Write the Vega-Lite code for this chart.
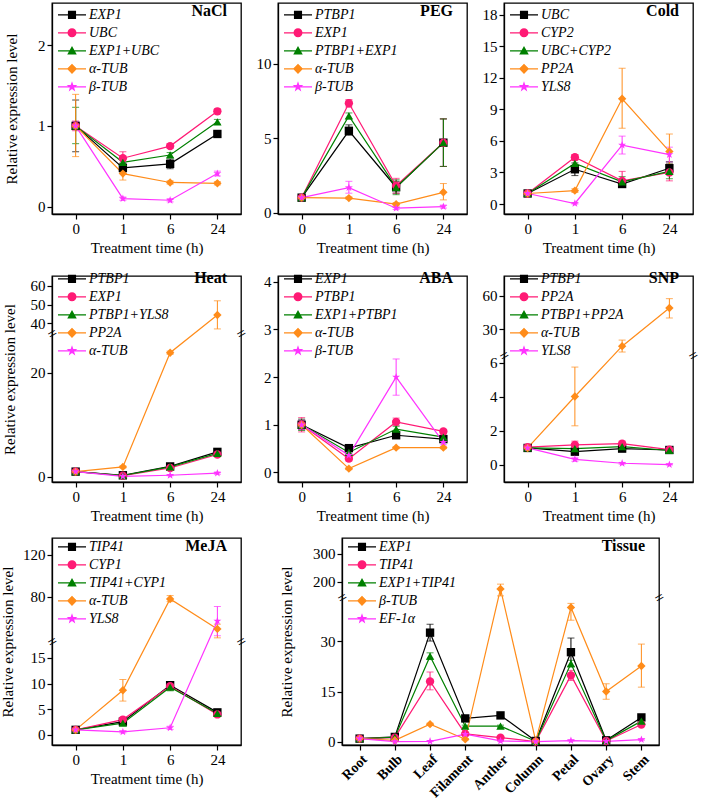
{
  "$schema": "https://vega.github.io/schema/vega-lite/v6.json",
  "padding": {"left": -1, "top": 2, "right": 0, "bottom": 0},
  "config": {
    "font": "Liberation Serif, Times New Roman, serif",
    "view": {"stroke": "#000", "strokeWidth": 1.3},
    "axis": {"labelFont": "Liberation Serif, Times New Roman, serif", "titleFont": "Liberation Serif, Times New Roman, serif", "labelFontSize": 15, "titleFontSize": 15, "titleFontWeight": 400, "labelColor": "#000", "titleColor": "#000", "domainColor": "#000", "tickColor": "#000", "grid": false, "tickSize": 5, "labelPadding": 2, "labelOverlap": false, "labelFlush": false, "domainWidth": 1.3, "tickWidth": 1.2},
    "title": {"anchor": "end", "frame": "group", "offset": -16, "baseline": "alphabetic", "dx": -14, "fontSize": 16, "fontWeight": "bold", "font": "Liberation Serif, Times New Roman, serif", "color": "#000"}
  },
  "datasets": {
    "d": [
      {"p":"NaCl","g":"EXP1","t":0,"v":1,"lo":0.68,"hi":1.32},
      {"p":"NaCl","g":"EXP1","t":1,"v":0.48,"lo":0.42,"hi":0.54},
      {"p":"NaCl","g":"EXP1","t":6,"v":0.53,"lo":0.47,"hi":0.59},
      {"p":"NaCl","g":"EXP1","t":24,"v":0.9,"lo":0.87,"hi":0.93},
      {"p":"NaCl","g":"UBC","t":0,"v":1,"lo":0.94,"hi":1.06},
      {"p":"NaCl","g":"UBC","t":1,"v":0.6,"lo":0.53,"hi":0.68},
      {"p":"NaCl","g":"UBC","t":6,"v":0.75,"lo":0.72,"hi":0.78},
      {"p":"NaCl","g":"UBC","t":24,"v":1.18,"lo":1.15,"hi":1.21},
      {"p":"NaCl","g":"EXP1+UBC","t":0,"v":1,"lo":0.78,"hi":1.23},
      {"p":"NaCl","g":"EXP1+UBC","t":1,"v":0.55,"lo":0.5,"hi":0.6},
      {"p":"NaCl","g":"EXP1+UBC","t":6,"v":0.64,"lo":0.61,"hi":0.67},
      {"p":"NaCl","g":"EXP1+UBC","t":24,"v":1.05,"lo":1.02,"hi":1.08},
      {"p":"NaCl","g":"α-TUB","t":0,"v":1,"lo":0.62,"hi":1.39},
      {"p":"NaCl","g":"α-TUB","t":1,"v":0.41,"lo":0.33,"hi":0.49},
      {"p":"NaCl","g":"α-TUB","t":6,"v":0.3,"lo":0.28,"hi":0.32},
      {"p":"NaCl","g":"α-TUB","t":24,"v":0.29,"lo":0.27,"hi":0.31},
      {"p":"NaCl","g":"β-TUB","t":0,"v":1,"lo":0.96,"hi":1.05},
      {"p":"NaCl","g":"β-TUB","t":1,"v":0.1,"lo":0.08,"hi":0.12},
      {"p":"NaCl","g":"β-TUB","t":6,"v":0.08,"lo":0.06,"hi":0.1},
      {"p":"NaCl","g":"β-TUB","t":24,"v":0.41,"lo":0.38,"hi":0.44},

      {"p":"PEG","g":"PTBP1","t":0,"v":1,"lo":0.9,"hi":1.1},
      {"p":"PEG","g":"PTBP1","t":1,"v":5.5,"lo":5.2,"hi":5.9},
      {"p":"PEG","g":"PTBP1","t":6,"v":1.7,"lo":1.3,"hi":2.1},
      {"p":"PEG","g":"PTBP1","t":24,"v":4.7,"lo":3.1,"hi":6.3},
      {"p":"PEG","g":"EXP1","t":0,"v":1,"lo":0.9,"hi":1.1},
      {"p":"PEG","g":"EXP1","t":1,"v":7.35,"lo":7.1,"hi":7.6},
      {"p":"PEG","g":"EXP1","t":6,"v":1.8,"lo":1.3,"hi":2.3},
      {"p":"PEG","g":"EXP1","t":24,"v":4.7,"lo":3.1,"hi":6.3},
      {"p":"PEG","g":"PTBP1+EXP1","t":0,"v":1,"lo":0.9,"hi":1.1},
      {"p":"PEG","g":"PTBP1+EXP1","t":1,"v":6.5,"lo":6.3,"hi":6.7},
      {"p":"PEG","g":"PTBP1+EXP1","t":6,"v":1.7,"lo":1.2,"hi":2.2},
      {"p":"PEG","g":"PTBP1+EXP1","t":24,"v":4.7,"lo":3.1,"hi":6.3},
      {"p":"PEG","g":"α-TUB","t":0,"v":1,"lo":0.85,"hi":1.15},
      {"p":"PEG","g":"α-TUB","t":1,"v":0.97,"lo":0.9,"hi":1.05},
      {"p":"PEG","g":"α-TUB","t":6,"v":0.56,"lo":0.45,"hi":0.67},
      {"p":"PEG","g":"α-TUB","t":24,"v":1.36,"lo":0.85,"hi":1.95},
      {"p":"PEG","g":"β-TUB","t":0,"v":1,"lo":0.9,"hi":1.1},
      {"p":"PEG","g":"β-TUB","t":1,"v":1.67,"lo":1.3,"hi":2.1},
      {"p":"PEG","g":"β-TUB","t":6,"v":0.29,"lo":0.2,"hi":0.38},
      {"p":"PEG","g":"β-TUB","t":24,"v":0.4,"lo":0.3,"hi":0.5},

      {"p":"Cold","g":"UBC","t":0,"v":1,"lo":0.8,"hi":1.2},
      {"p":"Cold","g":"UBC","t":1,"v":3.3,"lo":2.7,"hi":3.9},
      {"p":"Cold","g":"UBC","t":6,"v":1.9,"lo":1.6,"hi":2.2},
      {"p":"Cold","g":"UBC","t":24,"v":3.4,"lo":2.8,"hi":4.0},
      {"p":"Cold","g":"CYP2","t":0,"v":1,"lo":0.85,"hi":1.15},
      {"p":"Cold","g":"CYP2","t":1,"v":4.45,"lo":4.2,"hi":4.7},
      {"p":"Cold","g":"CYP2","t":6,"v":2.2,"lo":1.6,"hi":3.1},
      {"p":"Cold","g":"CYP2","t":24,"v":3.0,"lo":2.2,"hi":3.8},
      {"p":"Cold","g":"UBC+CYP2","t":0,"v":1,"lo":0.85,"hi":1.15},
      {"p":"Cold","g":"UBC+CYP2","t":1,"v":3.85,"lo":3.5,"hi":4.2},
      {"p":"Cold","g":"UBC+CYP2","t":6,"v":2.1,"lo":1.6,"hi":2.6},
      {"p":"Cold","g":"UBC+CYP2","t":24,"v":3.1,"lo":2.4,"hi":3.8},
      {"p":"Cold","g":"PP2A","t":0,"v":1,"lo":0.8,"hi":1.2},
      {"p":"Cold","g":"PP2A","t":1,"v":1.27,"lo":1.1,"hi":1.45},
      {"p":"Cold","g":"PP2A","t":6,"v":10.0,"lo":7.2,"hi":12.9},
      {"p":"Cold","g":"PP2A","t":24,"v":5.0,"lo":3.3,"hi":6.65},
      {"p":"Cold","g":"YLS8","t":0,"v":1,"lo":0.85,"hi":1.15},
      {"p":"Cold","g":"YLS8","t":1,"v":0.05,"lo":0.0,"hi":0.1},
      {"p":"Cold","g":"YLS8","t":6,"v":5.6,"lo":4.75,"hi":6.45},
      {"p":"Cold","g":"YLS8","t":24,"v":4.7,"lo":4.0,"hi":5.4},

      {"p":"Heat","g":"PTBP1","t":0,"v":1,"lo":0.6,"hi":1.4},
      {"p":"Heat","g":"PTBP1","t":1,"v":0.3,"lo":0.2,"hi":0.4},
      {"p":"Heat","g":"PTBP1","t":6,"v":2.0,"lo":1.7,"hi":2.3},
      {"p":"Heat","g":"PTBP1","t":24,"v":4.8,"lo":4.4,"hi":5.2},
      {"p":"Heat","g":"EXP1","t":0,"v":1,"lo":0.7,"hi":1.3},
      {"p":"Heat","g":"EXP1","t":1,"v":0.2,"lo":0.1,"hi":0.3},
      {"p":"Heat","g":"EXP1","t":6,"v":1.7,"lo":1.4,"hi":2.0},
      {"p":"Heat","g":"EXP1","t":24,"v":4.3,"lo":3.9,"hi":4.7},
      {"p":"Heat","g":"PTBP1+YLS8","t":0,"v":1,"lo":0.7,"hi":1.3},
      {"p":"Heat","g":"PTBP1+YLS8","t":1,"v":0.25,"lo":0.15,"hi":0.35},
      {"p":"Heat","g":"PTBP1+YLS8","t":6,"v":1.9,"lo":1.6,"hi":2.2},
      {"p":"Heat","g":"PTBP1+YLS8","t":24,"v":4.5,"lo":4.1,"hi":4.9},
      {"p":"Heat","g":"PP2A","t":0,"v":1,"lo":0.7,"hi":1.3},
      {"p":"Heat","g":"PP2A","t":1,"v":1.9,"lo":1.7,"hi":2.1},
      {"p":"Heat","g":"PP2A","t":6,"v":23.9,"lo":23.6,"hi":24.2},
      {"p":"Heat","g":"PP2A","t":24,"v":44.3,"lo":36.8,"hi":52},
      {"p":"Heat","g":"α-TUB","t":0,"v":1,"lo":0.8,"hi":1.2},
      {"p":"Heat","g":"α-TUB","t":1,"v":0.1,"lo":0.05,"hi":0.15},
      {"p":"Heat","g":"α-TUB","t":6,"v":0.3,"lo":0.2,"hi":0.4},
      {"p":"Heat","g":"α-TUB","t":24,"v":0.7,"lo":0.5,"hi":0.9},

      {"p":"ABA","g":"EXP1","t":0,"v":1,"lo":0.9,"hi":1.1},
      {"p":"ABA","g":"EXP1","t":1,"v":0.51,"lo":0.46,"hi":0.56},
      {"p":"ABA","g":"EXP1","t":6,"v":0.78,"lo":0.74,"hi":0.82},
      {"p":"ABA","g":"EXP1","t":24,"v":0.7,"lo":0.66,"hi":0.74},
      {"p":"ABA","g":"PTBP1","t":0,"v":1,"lo":0.85,"hi":1.15},
      {"p":"ABA","g":"PTBP1","t":1,"v":0.29,"lo":0.24,"hi":0.34},
      {"p":"ABA","g":"PTBP1","t":6,"v":1.06,"lo":0.98,"hi":1.14},
      {"p":"ABA","g":"PTBP1","t":24,"v":0.86,"lo":0.82,"hi":0.9},
      {"p":"ABA","g":"EXP1+PTBP1","t":0,"v":1,"lo":0.88,"hi":1.12},
      {"p":"ABA","g":"EXP1+PTBP1","t":1,"v":0.42,"lo":0.38,"hi":0.46},
      {"p":"ABA","g":"EXP1+PTBP1","t":6,"v":0.91,"lo":0.85,"hi":0.97},
      {"p":"ABA","g":"EXP1+PTBP1","t":24,"v":0.74,"lo":0.7,"hi":0.78},
      {"p":"ABA","g":"α-TUB","t":0,"v":1,"lo":0.95,"hi":1.05},
      {"p":"ABA","g":"α-TUB","t":1,"v":0.08,"lo":0.06,"hi":0.1},
      {"p":"ABA","g":"α-TUB","t":6,"v":0.52,"lo":0.5,"hi":0.54},
      {"p":"ABA","g":"α-TUB","t":24,"v":0.52,"lo":0.5,"hi":0.54},
      {"p":"ABA","g":"β-TUB","t":0,"v":1,"lo":0.9,"hi":1.1},
      {"p":"ABA","g":"β-TUB","t":1,"v":0.36,"lo":0.32,"hi":0.4},
      {"p":"ABA","g":"β-TUB","t":6,"v":2.0,"lo":1.62,"hi":2.38},
      {"p":"ABA","g":"β-TUB","t":24,"v":0.63,"lo":0.58,"hi":0.68},

      {"p":"SNP","g":"PTBP1","t":0,"v":1,"lo":0.9,"hi":1.1},
      {"p":"SNP","g":"PTBP1","t":1,"v":0.78,"lo":0.65,"hi":0.9},
      {"p":"SNP","g":"PTBP1","t":6,"v":0.96,"lo":0.9,"hi":1.02},
      {"p":"SNP","g":"PTBP1","t":24,"v":0.88,"lo":0.82,"hi":0.94},
      {"p":"SNP","g":"PP2A","t":0,"v":1.05,"lo":0.85,"hi":1.2},
      {"p":"SNP","g":"PP2A","t":1,"v":1.18,"lo":0.95,"hi":1.4},
      {"p":"SNP","g":"PP2A","t":6,"v":1.25,"lo":1.1,"hi":1.4},
      {"p":"SNP","g":"PP2A","t":24,"v":0.9,"lo":0.8,"hi":1.0},
      {"p":"SNP","g":"PTBP1+PP2A","t":0,"v":1,"lo":0.9,"hi":1.1},
      {"p":"SNP","g":"PTBP1+PP2A","t":1,"v":0.96,"lo":0.86,"hi":1.06},
      {"p":"SNP","g":"PTBP1+PP2A","t":6,"v":1.08,"lo":1.0,"hi":1.16},
      {"p":"SNP","g":"PTBP1+PP2A","t":24,"v":0.85,"lo":0.78,"hi":0.92},
      {"p":"SNP","g":"α-TUB","t":0,"v":1,"lo":0.9,"hi":1.1},
      {"p":"SNP","g":"α-TUB","t":1,"v":4.02,"lo":2.3,"hi":5.75},
      {"p":"SNP","g":"α-TUB","t":6,"v":14.5,"lo":9.2,"hi":20},
      {"p":"SNP","g":"α-TUB","t":24,"v":49,"lo":40,"hi":57.5},
      {"p":"SNP","g":"YLS8","t":0,"v":1,"lo":0.9,"hi":1.1},
      {"p":"SNP","g":"YLS8","t":1,"v":0.33,"lo":0.22,"hi":0.45},
      {"p":"SNP","g":"YLS8","t":6,"v":0.1,"lo":0.05,"hi":0.15},
      {"p":"SNP","g":"YLS8","t":24,"v":0.02,"lo":0.0,"hi":0.05},

      {"p":"MeJA","g":"TIP41","t":0,"v":1,"lo":0.7,"hi":1.3},
      {"p":"MeJA","g":"TIP41","t":1,"v":2.6,"lo":2.2,"hi":3.0},
      {"p":"MeJA","g":"TIP41","t":6,"v":9.7,"lo":9.2,"hi":10.2},
      {"p":"MeJA","g":"TIP41","t":24,"v":4.4,"lo":4.0,"hi":4.8},
      {"p":"MeJA","g":"CYP1","t":0,"v":1,"lo":0.7,"hi":1.3},
      {"p":"MeJA","g":"CYP1","t":1,"v":3.0,"lo":2.7,"hi":3.3},
      {"p":"MeJA","g":"CYP1","t":6,"v":9.5,"lo":9.0,"hi":10.0},
      {"p":"MeJA","g":"CYP1","t":24,"v":4.0,"lo":3.6,"hi":4.4},
      {"p":"MeJA","g":"TIP41+CYP1","t":0,"v":1,"lo":0.7,"hi":1.3},
      {"p":"MeJA","g":"TIP41+CYP1","t":1,"v":2.3,"lo":1.9,"hi":2.7},
      {"p":"MeJA","g":"TIP41+CYP1","t":6,"v":9.3,"lo":8.6,"hi":10.0},
      {"p":"MeJA","g":"TIP41+CYP1","t":24,"v":4.2,"lo":3.8,"hi":4.6},
      {"p":"MeJA","g":"α-TUB","t":0,"v":1,"lo":0.6,"hi":1.4},
      {"p":"MeJA","g":"α-TUB","t":1,"v":8.7,"lo":6.6,"hi":10.8},
      {"p":"MeJA","g":"α-TUB","t":6,"v":78,"lo":75.5,"hi":81.2},
      {"p":"MeJA","g":"α-TUB","t":24,"v":49.5,"lo":41,"hi":54},
      {"p":"MeJA","g":"YLS8","t":0,"v":1,"lo":0.8,"hi":1.2},
      {"p":"MeJA","g":"YLS8","t":1,"v":0.6,"lo":0.4,"hi":0.8},
      {"p":"MeJA","g":"YLS8","t":6,"v":1.4,"lo":1.1,"hi":1.7},
      {"p":"MeJA","g":"YLS8","t":24,"v":57,"lo":43,"hi":70.8},

      {"p":"Tissue","g":"EXP1","t":"Root","v":1,"lo":0.8,"hi":1.2},
      {"p":"Tissue","g":"EXP1","t":"Bulb","v":1.5,"lo":1.2,"hi":1.8},
      {"p":"Tissue","g":"EXP1","t":"Leaf","v":32.5,"lo":30,"hi":35},
      {"p":"Tissue","g":"EXP1","t":"Filament","v":7.0,"lo":6.3,"hi":7.7},
      {"p":"Tissue","g":"EXP1","t":"Anther","v":7.9,"lo":7.5,"hi":8.3},
      {"p":"Tissue","g":"EXP1","t":"Column","v":0.3,"lo":0.2,"hi":0.4},
      {"p":"Tissue","g":"EXP1","t":"Petal","v":26.7,"lo":22.5,"hi":30.9},
      {"p":"Tissue","g":"EXP1","t":"Ovary","v":0.5,"lo":0.3,"hi":0.7},
      {"p":"Tissue","g":"EXP1","t":"Stem","v":7.3,"lo":6.8,"hi":7.8},
      {"p":"Tissue","g":"TIP41","t":"Root","v":1,"lo":0.8,"hi":1.2},
      {"p":"Tissue","g":"TIP41","t":"Bulb","v":1.3,"lo":1.1,"hi":1.5},
      {"p":"Tissue","g":"TIP41","t":"Leaf","v":18,"lo":15.5,"hi":20.8},
      {"p":"Tissue","g":"TIP41","t":"Filament","v":2.4,"lo":2.1,"hi":2.7},
      {"p":"Tissue","g":"TIP41","t":"Anther","v":1.3,"lo":1.1,"hi":1.5},
      {"p":"Tissue","g":"TIP41","t":"Column","v":0.1,"lo":0.05,"hi":0.15},
      {"p":"Tissue","g":"TIP41","t":"Petal","v":19.8,"lo":18.3,"hi":21.3},
      {"p":"Tissue","g":"TIP41","t":"Ovary","v":0.3,"lo":0.2,"hi":0.4},
      {"p":"Tissue","g":"TIP41","t":"Stem","v":5.2,"lo":4.8,"hi":5.6},
      {"p":"Tissue","g":"EXP1+TIP41","t":"Root","v":1,"lo":0.8,"hi":1.2},
      {"p":"Tissue","g":"EXP1+TIP41","t":"Bulb","v":1.4,"lo":1.2,"hi":1.6},
      {"p":"Tissue","g":"EXP1+TIP41","t":"Leaf","v":25.5,"lo":24.5,"hi":26.5},
      {"p":"Tissue","g":"EXP1+TIP41","t":"Filament","v":4.7,"lo":4.4,"hi":5.0},
      {"p":"Tissue","g":"EXP1+TIP41","t":"Anther","v":4.7,"lo":4.4,"hi":5.0},
      {"p":"Tissue","g":"EXP1+TIP41","t":"Column","v":0.2,"lo":0.1,"hi":0.3},
      {"p":"Tissue","g":"EXP1+TIP41","t":"Petal","v":23.3,"lo":22.3,"hi":24.3},
      {"p":"Tissue","g":"EXP1+TIP41","t":"Ovary","v":0.4,"lo":0.3,"hi":0.5},
      {"p":"Tissue","g":"EXP1+TIP41","t":"Stem","v":6.2,"lo":5.8,"hi":6.6},
      {"p":"Tissue","g":"β-TUB","t":"Root","v":1,"lo":0.8,"hi":1.2},
      {"p":"Tissue","g":"β-TUB","t":"Bulb","v":0.5,"lo":0.4,"hi":0.6},
      {"p":"Tissue","g":"β-TUB","t":"Leaf","v":5.3,"lo":5.0,"hi":5.6},
      {"p":"Tissue","g":"β-TUB","t":"Filament","v":0.8,"lo":0.6,"hi":1.0},
      {"p":"Tissue","g":"β-TUB","t":"Anther","v":175,"lo":150,"hi":192},
      {"p":"Tissue","g":"β-TUB","t":"Column","v":0.3,"lo":0.2,"hi":0.4},
      {"p":"Tissue","g":"β-TUB","t":"Petal","v":40,"lo":36.2,"hi":41.2},
      {"p":"Tissue","g":"β-TUB","t":"Ovary","v":15,"lo":12.7,"hi":17.3},
      {"p":"Tissue","g":"β-TUB","t":"Stem","v":22.6,"lo":16.3,"hi":29.1},
      {"p":"Tissue","g":"EF-1α","t":"Root","v":1,"lo":0.8,"hi":1.2},
      {"p":"Tissue","g":"EF-1α","t":"Bulb","v":0.1,"lo":0.05,"hi":0.15},
      {"p":"Tissue","g":"EF-1α","t":"Leaf","v":0.2,"lo":0.1,"hi":0.3},
      {"p":"Tissue","g":"EF-1α","t":"Filament","v":2.3,"lo":2.0,"hi":2.6},
      {"p":"Tissue","g":"EF-1α","t":"Anther","v":0.3,"lo":0.2,"hi":0.4},
      {"p":"Tissue","g":"EF-1α","t":"Column","v":0.1,"lo":0.05,"hi":0.15},
      {"p":"Tissue","g":"EF-1α","t":"Petal","v":0.4,"lo":0.3,"hi":0.5},
      {"p":"Tissue","g":"EF-1α","t":"Ovary","v":0.2,"lo":0.1,"hi":0.3},
      {"p":"Tissue","g":"EF-1α","t":"Stem","v":0.7,"lo":0.5,"hi":0.9}
    ]
  },
  "spacing": 13,
  "resolve": {"scale": {"color": "independent", "shape": "independent"}},
  "vconcat": [
    {
      "spacing": 37,
      "bounds": "flush",
      "resolve": {"scale": {"color": "independent", "shape": "independent"}},
      "hconcat": [
        {
          "width": 189, "height": 211,
          "title": {"text": "NaCl"},
          "data": {"name": "d"},
          "transform": [{"filter": "datum.p === 'NaCl'"}],
          "encoding": {
            "x": {"field": "t", "type": "ordinal", "scale": {"type": "point", "domain": [0, 1, 6, 24], "padding": 0.5}, "axis": {"title": "Treatment time (h)", "labelAngle": 0, "titlePadding": 4}},
            "color": {"field": "g", "type": "nominal", "scale": {"domain": ["EXP1", "UBC", "EXP1+UBC", "α-TUB", "β-TUB"], "range": ["#000000", "#ff1a75", "#008000", "#ff8c1a", "#ff33ff"]}, "legend": null}
          },
          "layer": [
            {"mark": {"type": "errorbar", "ticks": {"size": 7}}, "encoding": {"y": {"field": "lo", "type": "quantitative", "scale": {"domain": [-0.09, 2.52], "nice": false, "zero": false}, "axis": null}, "y2": {"field": "hi"}}},
            {"mark": {"type": "line", "strokeWidth": 1.2}, "encoding": {"y": {"field": "v", "type": "quantitative", "scale": {"domain": [-0.09, 2.52], "nice": false, "zero": false}, "axis": {"orient": "left", "title": "Relative expression level", "values": [0, 1, 2], "titlePadding": 18}}, "order": {"value": null}}},
            {"mark": {"type": "point", "filled": true, "opacity": 1, "size": 70}, "encoding": {"y": {"field": "v", "type": "quantitative", "axis": null}, "shape": {"field": "g", "type": "nominal", "scale": {"domain": ["EXP1", "UBC", "EXP1+UBC", "α-TUB", "β-TUB"], "range": ["square", "circle", "triangle-up", "diamond", "M0,-1L0.235,-0.324L0.951,-0.309L0.38,0.124L0.588,0.809L0,0.4L-0.588,0.809L-0.38,0.124L-0.951,-0.309L-0.235,-0.324Z"]}, "legend": null}}},
            {"mark": {"type": "point", "filled": true, "opacity": 0}, "encoding": {"y": {"field": "v", "type": "quantitative", "axis": null},
              "color": {"field": "g", "type": "nominal", "scale": {"domain": ["EXP1", "UBC", "EXP1+UBC", "α-TUB", "β-TUB"], "range": ["#000000", "#ff1a75", "#008000", "#ff8c1a", "#ff33ff"]}, "legend": {"title": null, "orient": "none", "legendX": 6, "legendY": 3, "clipHeight": 17.7, "symbolSize": 784, "symbolOpacity": 1, "symbolStrokeWidth": 0, "labelFontSize": 14, "labelFontStyle": "italic", "labelFont": "Liberation Serif, Times New Roman, serif", "labelColor": "#000", "labelOffset": 3, "rowPadding": 0, "padding": 0}},
              "shape": {"field": "g", "type": "nominal", "scale": {"domain": ["EXP1", "UBC", "EXP1+UBC", "α-TUB", "β-TUB"], "range": ["M-1,-0.043H1V0.043H-1Z M-0.29,-0.29H0.29V0.29H-0.29Z", "M-1,-0.043H1V0.043H-1Z M0.32,0A0.32,0.32 0 1 1 -0.32,0A0.32,0.32 0 1 1 0.32,0Z", "M-1,-0.043H1V0.043H-1Z M0,-0.34L0.34,0.26H-0.34Z", "M-1,-0.043H1V0.043H-1Z M0,-0.36L0.36,0L0,0.36L-0.36,0Z", "M-1,-0.043H1V0.043H-1Z M0,-0.4L0.094,-0.129L0.38,-0.124L0.152,0.049L0.235,0.324L0,0.16L-0.235,0.324L-0.152,0.049L-0.38,-0.124L-0.094,-0.129Z"]}, "legend": {"title": null, "orient": "none", "legendX": 6, "legendY": 3, "clipHeight": 17.7, "symbolSize": 784, "symbolOpacity": 1, "symbolStrokeWidth": 0, "labelFontSize": 14, "labelFontStyle": "italic", "labelFont": "Liberation Serif, Times New Roman, serif", "labelColor": "#000", "labelOffset": 3, "rowPadding": 0, "padding": 0}}}}
          ],
          "resolve": {"scale": {"color": "independent", "shape": "independent"}, "axis": {"y": "independent"}}
        },
        {
          "width": 189, "height": 211,
          "title": {"text": "PEG"},
          "data": {"name": "d"},
          "transform": [{"filter": "datum.p === 'PEG'"}],
          "encoding": {
            "x": {"field": "t", "type": "ordinal", "scale": {"type": "point", "domain": [0, 1, 6, 24], "padding": 0.5}, "axis": {"title": "Treatment time (h)", "labelAngle": 0, "titlePadding": 4}},
            "color": {"field": "g", "type": "nominal", "scale": {"domain": ["PTBP1", "EXP1", "PTBP1+EXP1", "α-TUB", "β-TUB"], "range": ["#000000", "#ff1a75", "#008000", "#ff8c1a", "#ff33ff"]}, "legend": null}
          },
          "layer": [
            {"mark": {"type": "errorbar", "ticks": {"size": 7}}, "encoding": {"y": {"field": "lo", "type": "quantitative", "scale": {"domain": [-0.1, 14.1], "nice": false, "zero": false}, "axis": null}, "y2": {"field": "hi"}}},
            {"mark": {"type": "line", "strokeWidth": 1.2}, "encoding": {"y": {"field": "v", "type": "quantitative", "scale": {"domain": [-0.1, 14.1], "nice": false, "zero": false}, "axis": {"orient": "left", "title": null, "values": [0, 5, 10]}}, "order": {"value": null}}},
            {"mark": {"type": "point", "filled": true, "opacity": 1, "size": 70}, "encoding": {"y": {"field": "v", "type": "quantitative", "axis": null}, "shape": {"field": "g", "type": "nominal", "scale": {"domain": ["PTBP1", "EXP1", "PTBP1+EXP1", "α-TUB", "β-TUB"], "range": ["square", "circle", "triangle-up", "diamond", "M0,-1L0.235,-0.324L0.951,-0.309L0.38,0.124L0.588,0.809L0,0.4L-0.588,0.809L-0.38,0.124L-0.951,-0.309L-0.235,-0.324Z"]}, "legend": null}}},
            {"mark": {"type": "point", "filled": true, "opacity": 0}, "encoding": {"y": {"field": "v", "type": "quantitative", "axis": null},
              "color": {"field": "g", "type": "nominal", "scale": {"domain": ["PTBP1", "EXP1", "PTBP1+EXP1", "α-TUB", "β-TUB"], "range": ["#000000", "#ff1a75", "#008000", "#ff8c1a", "#ff33ff"]}, "legend": {"title": null, "orient": "none", "legendX": 6, "legendY": 3, "clipHeight": 17.7, "symbolSize": 784, "symbolOpacity": 1, "symbolStrokeWidth": 0, "labelFontSize": 14, "labelFontStyle": "italic", "labelFont": "Liberation Serif, Times New Roman, serif", "labelColor": "#000", "labelOffset": 3, "rowPadding": 0, "padding": 0}},
              "shape": {"field": "g", "type": "nominal", "scale": {"domain": ["PTBP1", "EXP1", "PTBP1+EXP1", "α-TUB", "β-TUB"], "range": ["M-1,-0.043H1V0.043H-1Z M-0.29,-0.29H0.29V0.29H-0.29Z", "M-1,-0.043H1V0.043H-1Z M0.32,0A0.32,0.32 0 1 1 -0.32,0A0.32,0.32 0 1 1 0.32,0Z", "M-1,-0.043H1V0.043H-1Z M0,-0.34L0.34,0.26H-0.34Z", "M-1,-0.043H1V0.043H-1Z M0,-0.36L0.36,0L0,0.36L-0.36,0Z", "M-1,-0.043H1V0.043H-1Z M0,-0.4L0.094,-0.129L0.38,-0.124L0.152,0.049L0.235,0.324L0,0.16L-0.235,0.324L-0.152,0.049L-0.38,-0.124L-0.094,-0.129Z"]}, "legend": {"title": null, "orient": "none", "legendX": 6, "legendY": 3, "clipHeight": 17.7, "symbolSize": 784, "symbolOpacity": 1, "symbolStrokeWidth": 0, "labelFontSize": 14, "labelFontStyle": "italic", "labelFont": "Liberation Serif, Times New Roman, serif", "labelColor": "#000", "labelOffset": 3, "rowPadding": 0, "padding": 0}}}}
          ],
          "resolve": {"scale": {"color": "independent", "shape": "independent"}, "axis": {"y": "independent"}}
        },
        {
          "width": 189, "height": 211,
          "title": {"text": "Cold"},
          "data": {"name": "d"},
          "transform": [{"filter": "datum.p === 'Cold'"}],
          "encoding": {
            "x": {"field": "t", "type": "ordinal", "scale": {"type": "point", "domain": [0, 1, 6, 24], "padding": 0.5}, "axis": {"title": "Treatment time (h)", "labelAngle": 0, "titlePadding": 4}},
            "color": {"field": "g", "type": "nominal", "scale": {"domain": ["UBC", "CYP2", "UBC+CYP2", "PP2A", "YLS8"], "range": ["#000000", "#ff1a75", "#008000", "#ff8c1a", "#ff33ff"]}, "legend": null}
          },
          "layer": [
            {"mark": {"type": "errorbar", "ticks": {"size": 7}}, "encoding": {"y": {"field": "lo", "type": "quantitative", "scale": {"domain": [-0.95, 19.1], "nice": false, "zero": false}, "axis": null}, "y2": {"field": "hi"}}},
            {"mark": {"type": "line", "strokeWidth": 1.2}, "encoding": {"y": {"field": "v", "type": "quantitative", "scale": {"domain": [-0.95, 19.1], "nice": false, "zero": false}, "axis": {"orient": "left", "title": null, "values": [0, 3, 6, 9, 12, 15, 18]}}, "order": {"value": null}}},
            {"mark": {"type": "point", "filled": true, "opacity": 1, "size": 70}, "encoding": {"y": {"field": "v", "type": "quantitative", "axis": null}, "shape": {"field": "g", "type": "nominal", "scale": {"domain": ["UBC", "CYP2", "UBC+CYP2", "PP2A", "YLS8"], "range": ["square", "circle", "triangle-up", "diamond", "M0,-1L0.235,-0.324L0.951,-0.309L0.38,0.124L0.588,0.809L0,0.4L-0.588,0.809L-0.38,0.124L-0.951,-0.309L-0.235,-0.324Z"]}, "legend": null}}},
            {"mark": {"type": "point", "filled": true, "opacity": 0}, "encoding": {"y": {"field": "v", "type": "quantitative", "axis": null},
              "color": {"field": "g", "type": "nominal", "scale": {"domain": ["UBC", "CYP2", "UBC+CYP2", "PP2A", "YLS8"], "range": ["#000000", "#ff1a75", "#008000", "#ff8c1a", "#ff33ff"]}, "legend": {"title": null, "orient": "none", "legendX": 6, "legendY": 3, "clipHeight": 17.7, "symbolSize": 784, "symbolOpacity": 1, "symbolStrokeWidth": 0, "labelFontSize": 14, "labelFontStyle": "italic", "labelFont": "Liberation Serif, Times New Roman, serif", "labelColor": "#000", "labelOffset": 3, "rowPadding": 0, "padding": 0}},
              "shape": {"field": "g", "type": "nominal", "scale": {"domain": ["UBC", "CYP2", "UBC+CYP2", "PP2A", "YLS8"], "range": ["M-1,-0.043H1V0.043H-1Z M-0.29,-0.29H0.29V0.29H-0.29Z", "M-1,-0.043H1V0.043H-1Z M0.32,0A0.32,0.32 0 1 1 -0.32,0A0.32,0.32 0 1 1 0.32,0Z", "M-1,-0.043H1V0.043H-1Z M0,-0.34L0.34,0.26H-0.34Z", "M-1,-0.043H1V0.043H-1Z M0,-0.36L0.36,0L0,0.36L-0.36,0Z", "M-1,-0.043H1V0.043H-1Z M0,-0.4L0.094,-0.129L0.38,-0.124L0.152,0.049L0.235,0.324L0,0.16L-0.235,0.324L-0.152,0.049L-0.38,-0.124L-0.094,-0.129Z"]}, "legend": {"title": null, "orient": "none", "legendX": 6, "legendY": 3, "clipHeight": 17.7, "symbolSize": 784, "symbolOpacity": 1, "symbolStrokeWidth": 0, "labelFontSize": 14, "labelFontStyle": "italic", "labelFont": "Liberation Serif, Times New Roman, serif", "labelColor": "#000", "labelOffset": 3, "rowPadding": 0, "padding": 0}}}}
          ],
          "resolve": {"scale": {"color": "independent", "shape": "independent"}, "axis": {"y": "independent"}}
        }
      ]
    },
    {
      "spacing": 37,
      "bounds": "flush",
      "resolve": {"scale": {"color": "independent", "shape": "independent"}},
      "hconcat": [
        {
          "width": 189, "height": 206,
          "title": {"text": "Heat"},
          "data": {"name": "d"},
          "transform": [{"filter": "datum.p === 'Heat'"}],
          "encoding": {
            "x": {"field": "t", "type": "ordinal", "scale": {"type": "point", "domain": [0, 1, 6, 24], "padding": 0.5}, "axis": {"title": "Treatment time (h)", "labelAngle": 0, "titlePadding": 4}},
            "color": {"field": "g", "type": "nominal", "scale": {"domain": ["PTBP1", "EXP1", "PTBP1+YLS8", "PP2A", "α-TUB"], "range": ["#000000", "#ff1a75", "#008000", "#ff8c1a", "#ff33ff"]}, "legend": null}
          },
          "layer": [
            {"mark": {"type": "errorbar", "ticks": {"size": 7}}, "encoding": {"y": {"field": "lo", "type": "quantitative", "scale": {"domain": [-1, 27.5, 34.6, 65.4], "range": [206, 58, 57, 0], "nice": false, "zero": false}, "axis": null}, "y2": {"field": "hi"}}},
            {"mark": {"type": "line", "strokeWidth": 1.2}, "encoding": {"y": {"field": "v", "type": "quantitative", "scale": {"domain": [-1, 27.5, 34.6, 65.4], "range": [206, 58, 57, 0], "nice": false, "zero": false}, "axis": {"orient": "left", "title": "Relative expression level", "values": [0, 20, 40, 50, 60], "titlePadding": 13}}, "order": {"value": null}}},
            {"mark": {"type": "point", "filled": true, "opacity": 1, "size": 70}, "encoding": {"y": {"field": "v", "type": "quantitative", "axis": {"orient": "left", "values": [31], "labelExpr": "'='", "ticks": false, "tickSize": 0, "domain": false, "labelPadding": 0, "labelAlign": "center", "labelBaseline": "middle", "labelAngle": -30, "labelFontSize": 16, "title": null}}, "shape": {"field": "g", "type": "nominal", "scale": {"domain": ["PTBP1", "EXP1", "PTBP1+YLS8", "PP2A", "α-TUB"], "range": ["square", "circle", "triangle-up", "diamond", "M0,-1L0.235,-0.324L0.951,-0.309L0.38,0.124L0.588,0.809L0,0.4L-0.588,0.809L-0.38,0.124L-0.951,-0.309L-0.235,-0.324Z"]}, "legend": null}}},
            {"mark": {"type": "point", "filled": true, "opacity": 0}, "encoding": {"y": {"field": "v", "type": "quantitative", "axis": {"orient": "right", "values": [31], "labelExpr": "'='", "ticks": false, "tickSize": 0, "domain": false, "labelPadding": 0, "labelAlign": "center", "labelBaseline": "middle", "labelAngle": -30, "labelFontSize": 16, "title": null}},
              "color": {"field": "g", "type": "nominal", "scale": {"domain": ["PTBP1", "EXP1", "PTBP1+YLS8", "PP2A", "α-TUB"], "range": ["#000000", "#ff1a75", "#008000", "#ff8c1a", "#ff33ff"]}, "legend": {"title": null, "orient": "none", "legendX": 6, "legendY": -6, "clipHeight": 17.7, "symbolSize": 784, "symbolOpacity": 1, "symbolStrokeWidth": 0, "labelFontSize": 14, "labelFontStyle": "italic", "labelFont": "Liberation Serif, Times New Roman, serif", "labelColor": "#000", "labelOffset": 3, "rowPadding": 0, "padding": 0}},
              "shape": {"field": "g", "type": "nominal", "scale": {"domain": ["PTBP1", "EXP1", "PTBP1+YLS8", "PP2A", "α-TUB"], "range": ["M-1,-0.043H1V0.043H-1Z M-0.29,-0.29H0.29V0.29H-0.29Z", "M-1,-0.043H1V0.043H-1Z M0.32,0A0.32,0.32 0 1 1 -0.32,0A0.32,0.32 0 1 1 0.32,0Z", "M-1,-0.043H1V0.043H-1Z M0,-0.34L0.34,0.26H-0.34Z", "M-1,-0.043H1V0.043H-1Z M0,-0.36L0.36,0L0,0.36L-0.36,0Z", "M-1,-0.043H1V0.043H-1Z M0,-0.4L0.094,-0.129L0.38,-0.124L0.152,0.049L0.235,0.324L0,0.16L-0.235,0.324L-0.152,0.049L-0.38,-0.124L-0.094,-0.129Z"]}, "legend": {"title": null, "orient": "none", "legendX": 6, "legendY": -6, "clipHeight": 17.7, "symbolSize": 784, "symbolOpacity": 1, "symbolStrokeWidth": 0, "labelFontSize": 14, "labelFontStyle": "italic", "labelFont": "Liberation Serif, Times New Roman, serif", "labelColor": "#000", "labelOffset": 3, "rowPadding": 0, "padding": 0}}}}
          ],
          "resolve": {"scale": {"color": "independent", "shape": "independent"}, "axis": {"y": "independent"}}
        },
        {
          "width": 189, "height": 206,
          "title": {"text": "ABA"},
          "data": {"name": "d"},
          "transform": [{"filter": "datum.p === 'ABA'"}],
          "encoding": {
            "x": {"field": "t", "type": "ordinal", "scale": {"type": "point", "domain": [0, 1, 6, 24], "padding": 0.5}, "axis": {"title": "Treatment time (h)", "labelAngle": 0, "titlePadding": 4}},
            "color": {"field": "g", "type": "nominal", "scale": {"domain": ["EXP1", "PTBP1", "EXP1+PTBP1", "α-TUB", "β-TUB"], "range": ["#000000", "#ff1a75", "#008000", "#ff8c1a", "#ff33ff"]}, "legend": null}
          },
          "layer": [
            {"mark": {"type": "errorbar", "ticks": {"size": 7}}, "encoding": {"y": {"field": "lo", "type": "quantitative", "scale": {"domain": [-0.2, 4.12], "nice": false, "zero": false}, "axis": null}, "y2": {"field": "hi"}}},
            {"mark": {"type": "line", "strokeWidth": 1.2}, "encoding": {"y": {"field": "v", "type": "quantitative", "scale": {"domain": [-0.2, 4.12], "nice": false, "zero": false}, "axis": {"orient": "left", "title": null, "values": [0, 1, 2, 3, 4]}}, "order": {"value": null}}},
            {"mark": {"type": "point", "filled": true, "opacity": 1, "size": 70}, "encoding": {"y": {"field": "v", "type": "quantitative", "axis": null}, "shape": {"field": "g", "type": "nominal", "scale": {"domain": ["EXP1", "PTBP1", "EXP1+PTBP1", "α-TUB", "β-TUB"], "range": ["square", "circle", "triangle-up", "diamond", "M0,-1L0.235,-0.324L0.951,-0.309L0.38,0.124L0.588,0.809L0,0.4L-0.588,0.809L-0.38,0.124L-0.951,-0.309L-0.235,-0.324Z"]}, "legend": null}}},
            {"mark": {"type": "point", "filled": true, "opacity": 0}, "encoding": {"y": {"field": "v", "type": "quantitative", "axis": null},
              "color": {"field": "g", "type": "nominal", "scale": {"domain": ["EXP1", "PTBP1", "EXP1+PTBP1", "α-TUB", "β-TUB"], "range": ["#000000", "#ff1a75", "#008000", "#ff8c1a", "#ff33ff"]}, "legend": {"title": null, "orient": "none", "legendX": 6, "legendY": -6, "clipHeight": 17.7, "symbolSize": 784, "symbolOpacity": 1, "symbolStrokeWidth": 0, "labelFontSize": 14, "labelFontStyle": "italic", "labelFont": "Liberation Serif, Times New Roman, serif", "labelColor": "#000", "labelOffset": 3, "rowPadding": 0, "padding": 0}},
              "shape": {"field": "g", "type": "nominal", "scale": {"domain": ["EXP1", "PTBP1", "EXP1+PTBP1", "α-TUB", "β-TUB"], "range": ["M-1,-0.043H1V0.043H-1Z M-0.29,-0.29H0.29V0.29H-0.29Z", "M-1,-0.043H1V0.043H-1Z M0.32,0A0.32,0.32 0 1 1 -0.32,0A0.32,0.32 0 1 1 0.32,0Z", "M-1,-0.043H1V0.043H-1Z M0,-0.34L0.34,0.26H-0.34Z", "M-1,-0.043H1V0.043H-1Z M0,-0.36L0.36,0L0,0.36L-0.36,0Z", "M-1,-0.043H1V0.043H-1Z M0,-0.4L0.094,-0.129L0.38,-0.124L0.152,0.049L0.235,0.324L0,0.16L-0.235,0.324L-0.152,0.049L-0.38,-0.124L-0.094,-0.129Z"]}, "legend": {"title": null, "orient": "none", "legendX": 6, "legendY": -6, "clipHeight": 17.7, "symbolSize": 784, "symbolOpacity": 1, "symbolStrokeWidth": 0, "labelFontSize": 14, "labelFontStyle": "italic", "labelFont": "Liberation Serif, Times New Roman, serif", "labelColor": "#000", "labelOffset": 3, "rowPadding": 0, "padding": 0}}}}
          ],
          "resolve": {"scale": {"color": "independent", "shape": "independent"}, "axis": {"y": "independent"}}
        },
        {
          "width": 189, "height": 206,
          "title": {"text": "SNP"},
          "data": {"name": "d"},
          "transform": [{"filter": "datum.p === 'SNP'"}],
          "encoding": {
            "x": {"field": "t", "type": "ordinal", "scale": {"type": "point", "domain": [0, 1, 6, 24], "padding": 0.5}, "axis": {"title": "Treatment time (h)", "labelAngle": 0, "titlePadding": 4}},
            "color": {"field": "g", "type": "nominal", "scale": {"domain": ["PTBP1", "PP2A", "PTBP1+PP2A", "α-TUB", "YLS8"], "range": ["#000000", "#ff1a75", "#008000", "#ff8c1a", "#ff33ff"]}, "legend": null}
          },
          "layer": [
            {"mark": {"type": "errorbar", "ticks": {"size": 7}}, "encoding": {"y": {"field": "lo", "type": "quantitative", "scale": {"domain": [-1, 6.4, 6.5, 78], "range": [206, 80, 79, 0], "nice": false, "zero": false}, "axis": null}, "y2": {"field": "hi"}}},
            {"mark": {"type": "line", "strokeWidth": 1.2}, "encoding": {"y": {"field": "v", "type": "quantitative", "scale": {"domain": [-1, 6.4, 6.5, 78], "range": [206, 80, 79, 0], "nice": false, "zero": false}, "axis": {"orient": "left", "title": null, "values": [0, 2, 4, 6, 30, 60]}}, "order": {"value": null}}},
            {"mark": {"type": "point", "filled": true, "opacity": 1, "size": 70}, "encoding": {"y": {"field": "v", "type": "quantitative", "axis": {"orient": "left", "values": [6.45], "labelExpr": "'='", "ticks": false, "tickSize": 0, "domain": false, "labelPadding": 0, "labelAlign": "center", "labelBaseline": "middle", "labelAngle": -30, "labelFontSize": 16, "title": null}}, "shape": {"field": "g", "type": "nominal", "scale": {"domain": ["PTBP1", "PP2A", "PTBP1+PP2A", "α-TUB", "YLS8"], "range": ["square", "circle", "triangle-up", "diamond", "M0,-1L0.235,-0.324L0.951,-0.309L0.38,0.124L0.588,0.809L0,0.4L-0.588,0.809L-0.38,0.124L-0.951,-0.309L-0.235,-0.324Z"]}, "legend": null}}},
            {"mark": {"type": "point", "filled": true, "opacity": 0}, "encoding": {"y": {"field": "v", "type": "quantitative", "axis": {"orient": "right", "values": [6.45], "labelExpr": "'='", "ticks": false, "tickSize": 0, "domain": false, "labelPadding": 0, "labelAlign": "center", "labelBaseline": "middle", "labelAngle": -30, "labelFontSize": 16, "title": null}},
              "color": {"field": "g", "type": "nominal", "scale": {"domain": ["PTBP1", "PP2A", "PTBP1+PP2A", "α-TUB", "YLS8"], "range": ["#000000", "#ff1a75", "#008000", "#ff8c1a", "#ff33ff"]}, "legend": {"title": null, "orient": "none", "legendX": 6, "legendY": -6, "clipHeight": 17.7, "symbolSize": 784, "symbolOpacity": 1, "symbolStrokeWidth": 0, "labelFontSize": 14, "labelFontStyle": "italic", "labelFont": "Liberation Serif, Times New Roman, serif", "labelColor": "#000", "labelOffset": 3, "rowPadding": 0, "padding": 0}},
              "shape": {"field": "g", "type": "nominal", "scale": {"domain": ["PTBP1", "PP2A", "PTBP1+PP2A", "α-TUB", "YLS8"], "range": ["M-1,-0.043H1V0.043H-1Z M-0.29,-0.29H0.29V0.29H-0.29Z", "M-1,-0.043H1V0.043H-1Z M0.32,0A0.32,0.32 0 1 1 -0.32,0A0.32,0.32 0 1 1 0.32,0Z", "M-1,-0.043H1V0.043H-1Z M0,-0.34L0.34,0.26H-0.34Z", "M-1,-0.043H1V0.043H-1Z M0,-0.36L0.36,0L0,0.36L-0.36,0Z", "M-1,-0.043H1V0.043H-1Z M0,-0.4L0.094,-0.129L0.38,-0.124L0.152,0.049L0.235,0.324L0,0.16L-0.235,0.324L-0.152,0.049L-0.38,-0.124L-0.094,-0.129Z"]}, "legend": {"title": null, "orient": "none", "legendX": 6, "legendY": -6, "clipHeight": 17.7, "symbolSize": 784, "symbolOpacity": 1, "symbolStrokeWidth": 0, "labelFontSize": 14, "labelFontStyle": "italic", "labelFont": "Liberation Serif, Times New Roman, serif", "labelColor": "#000", "labelOffset": 3, "rowPadding": 0, "padding": 0}}}}
          ],
          "resolve": {"scale": {"color": "independent", "shape": "independent"}, "axis": {"y": "independent"}}
        }
      ]
    },
    {
      "spacing": 101,
      "bounds": "flush",
      "resolve": {"scale": {"color": "independent", "shape": "independent"}},
      "hconcat": [
        {
          "width": 189, "height": 207,
          "title": {"text": "MeJA"},
          "data": {"name": "d"},
          "transform": [{"filter": "datum.p === 'MeJA'"}],
          "encoding": {
            "x": {"field": "t", "type": "ordinal", "scale": {"type": "point", "domain": [0, 1, 6, 24], "padding": 0.5}, "axis": {"title": "Treatment time (h)", "labelAngle": 0, "titlePadding": 4}},
            "color": {"field": "g", "type": "nominal", "scale": {"domain": ["TIP41", "CYP1", "TIP41+CYP1", "α-TUB", "YLS8"], "range": ["#000000", "#ff1a75", "#008000", "#ff8c1a", "#ff33ff"]}, "legend": null}
          },
          "layer": [
            {"mark": {"type": "errorbar", "ticks": {"size": 7}}, "encoding": {"y": {"field": "lo", "type": "quantitative", "scale": {"domain": [-1.95, 18.1, 38, 136], "range": [207, 104, 103, 0], "nice": false, "zero": false}, "axis": null}, "y2": {"field": "hi"}}},
            {"mark": {"type": "line", "strokeWidth": 1.2}, "encoding": {"y": {"field": "v", "type": "quantitative", "scale": {"domain": [-1.95, 18.1, 38, 136], "range": [207, 104, 103, 0], "nice": false, "zero": false}, "axis": {"orient": "left", "title": "Relative expression level", "values": [0, 5, 10, 15, 80, 120], "titlePadding": 7}}, "order": {"value": null}}},
            {"mark": {"type": "point", "filled": true, "opacity": 1, "size": 70}, "encoding": {"y": {"field": "v", "type": "quantitative", "axis": {"orient": "left", "values": [28], "labelExpr": "'='", "ticks": false, "tickSize": 0, "domain": false, "labelPadding": 0, "labelAlign": "center", "labelBaseline": "middle", "labelAngle": -30, "labelFontSize": 16, "title": null}}, "shape": {"field": "g", "type": "nominal", "scale": {"domain": ["TIP41", "CYP1", "TIP41+CYP1", "α-TUB", "YLS8"], "range": ["square", "circle", "triangle-up", "diamond", "M0,-1L0.235,-0.324L0.951,-0.309L0.38,0.124L0.588,0.809L0,0.4L-0.588,0.809L-0.38,0.124L-0.951,-0.309L-0.235,-0.324Z"]}, "legend": null}}},
            {"mark": {"type": "point", "filled": true, "opacity": 0}, "encoding": {"y": {"field": "v", "type": "quantitative", "axis": {"orient": "right", "values": [28], "labelExpr": "'='", "ticks": false, "tickSize": 0, "domain": false, "labelPadding": 0, "labelAlign": "center", "labelBaseline": "middle", "labelAngle": -30, "labelFontSize": 16, "title": null}},
              "color": {"field": "g", "type": "nominal", "scale": {"domain": ["TIP41", "CYP1", "TIP41+CYP1", "α-TUB", "YLS8"], "range": ["#000000", "#ff1a75", "#008000", "#ff8c1a", "#ff33ff"]}, "legend": {"title": null, "orient": "none", "legendX": 6, "legendY": 0, "clipHeight": 17.7, "symbolSize": 784, "symbolOpacity": 1, "symbolStrokeWidth": 0, "labelFontSize": 14, "labelFontStyle": "italic", "labelFont": "Liberation Serif, Times New Roman, serif", "labelColor": "#000", "labelOffset": 3, "rowPadding": 0, "padding": 0}},
              "shape": {"field": "g", "type": "nominal", "scale": {"domain": ["TIP41", "CYP1", "TIP41+CYP1", "α-TUB", "YLS8"], "range": ["M-1,-0.043H1V0.043H-1Z M-0.29,-0.29H0.29V0.29H-0.29Z", "M-1,-0.043H1V0.043H-1Z M0.32,0A0.32,0.32 0 1 1 -0.32,0A0.32,0.32 0 1 1 0.32,0Z", "M-1,-0.043H1V0.043H-1Z M0,-0.34L0.34,0.26H-0.34Z", "M-1,-0.043H1V0.043H-1Z M0,-0.36L0.36,0L0,0.36L-0.36,0Z", "M-1,-0.043H1V0.043H-1Z M0,-0.4L0.094,-0.129L0.38,-0.124L0.152,0.049L0.235,0.324L0,0.16L-0.235,0.324L-0.152,0.049L-0.38,-0.124L-0.094,-0.129Z"]}, "legend": {"title": null, "orient": "none", "legendX": 6, "legendY": 0, "clipHeight": 17.7, "symbolSize": 784, "symbolOpacity": 1, "symbolStrokeWidth": 0, "labelFontSize": 14, "labelFontStyle": "italic", "labelFont": "Liberation Serif, Times New Roman, serif", "labelColor": "#000", "labelOffset": 3, "rowPadding": 0, "padding": 0}}}}
          ],
          "resolve": {"scale": {"color": "independent", "shape": "independent"}, "axis": {"y": "independent"}}
        },
        {
          "width": 317, "height": 207,
          "title": {"text": "Tissue"},
          "data": {"name": "d"},
          "transform": [{"filter": "datum.p === 'Tissue'"}],
          "encoding": {
            "x": {"field": "t", "type": "nominal", "scale": {"type": "point", "domain": ["Root", "Bulb", "Leaf", "Filament", "Anther", "Column", "Petal", "Ovary", "Stem"], "padding": 0.5}, "axis": {"title": null, "labelAngle": -45, "labelFontWeight": "bold", "labelFontSize": 14}},
            "color": {"field": "g", "type": "nominal", "scale": {"domain": ["EXP1", "TIP41", "EXP1+TIP41", "β-TUB", "EF-1α"], "range": ["#000000", "#ff1a75", "#008000", "#ff8c1a", "#ff33ff"]}, "legend": null}
          },
          "layer": [
            {"mark": {"type": "errorbar", "ticks": {"size": 7}}, "encoding": {"y": {"field": "lo", "type": "quantitative", "scale": {"domain": [-0.9, 42.8, 146, 357], "range": [207, 60, 59, 0], "nice": false, "zero": false}, "axis": null}, "y2": {"field": "hi"}}},
            {"mark": {"type": "line", "strokeWidth": 1.2}, "encoding": {"y": {"field": "v", "type": "quantitative", "scale": {"domain": [-0.9, 42.8, 146, 357], "range": [207, 60, 59, 0], "nice": false, "zero": false}, "axis": {"orient": "left", "title": "Relative expression level", "values": [0, 15, 30, 200, 300], "titlePadding": 18}}, "order": {"value": null}}},
            {"mark": {"type": "point", "filled": true, "opacity": 1, "size": 70}, "encoding": {"y": {"field": "v", "type": "quantitative", "axis": {"orient": "left", "values": [94], "labelExpr": "'='", "ticks": false, "tickSize": 0, "domain": false, "labelPadding": 0, "labelAlign": "center", "labelBaseline": "middle", "labelAngle": -30, "labelFontSize": 16, "title": null}}, "shape": {"field": "g", "type": "nominal", "scale": {"domain": ["EXP1", "TIP41", "EXP1+TIP41", "β-TUB", "EF-1α"], "range": ["square", "circle", "triangle-up", "diamond", "M0,-1L0.235,-0.324L0.951,-0.309L0.38,0.124L0.588,0.809L0,0.4L-0.588,0.809L-0.38,0.124L-0.951,-0.309L-0.235,-0.324Z"]}, "legend": null}}},
            {"mark": {"type": "point", "filled": true, "opacity": 0}, "encoding": {"y": {"field": "v", "type": "quantitative", "axis": {"orient": "right", "values": [94], "labelExpr": "'='", "ticks": false, "tickSize": 0, "domain": false, "labelPadding": 0, "labelAlign": "center", "labelBaseline": "middle", "labelAngle": -30, "labelFontSize": 16, "title": null}},
              "color": {"field": "g", "type": "nominal", "scale": {"domain": ["EXP1", "TIP41", "EXP1+TIP41", "β-TUB", "EF-1α"], "range": ["#000000", "#ff1a75", "#008000", "#ff8c1a", "#ff33ff"]}, "legend": {"title": null, "orient": "none", "legendX": 6, "legendY": 0, "clipHeight": 17.7, "symbolSize": 784, "symbolOpacity": 1, "symbolStrokeWidth": 0, "labelFontSize": 14, "labelFontStyle": "italic", "labelFont": "Liberation Serif, Times New Roman, serif", "labelColor": "#000", "labelOffset": 3, "rowPadding": 0, "padding": 0}},
              "shape": {"field": "g", "type": "nominal", "scale": {"domain": ["EXP1", "TIP41", "EXP1+TIP41", "β-TUB", "EF-1α"], "range": ["M-1,-0.043H1V0.043H-1Z M-0.29,-0.29H0.29V0.29H-0.29Z", "M-1,-0.043H1V0.043H-1Z M0.32,0A0.32,0.32 0 1 1 -0.32,0A0.32,0.32 0 1 1 0.32,0Z", "M-1,-0.043H1V0.043H-1Z M0,-0.34L0.34,0.26H-0.34Z", "M-1,-0.043H1V0.043H-1Z M0,-0.36L0.36,0L0,0.36L-0.36,0Z", "M-1,-0.043H1V0.043H-1Z M0,-0.4L0.094,-0.129L0.38,-0.124L0.152,0.049L0.235,0.324L0,0.16L-0.235,0.324L-0.152,0.049L-0.38,-0.124L-0.094,-0.129Z"]}, "legend": {"title": null, "orient": "none", "legendX": 6, "legendY": 0, "clipHeight": 17.7, "symbolSize": 784, "symbolOpacity": 1, "symbolStrokeWidth": 0, "labelFontSize": 14, "labelFontStyle": "italic", "labelFont": "Liberation Serif, Times New Roman, serif", "labelColor": "#000", "labelOffset": 3, "rowPadding": 0, "padding": 0}}}}
          ],
          "resolve": {"scale": {"color": "independent", "shape": "independent"}, "axis": {"y": "independent"}}
        }
      ]
    }
  ]
}
